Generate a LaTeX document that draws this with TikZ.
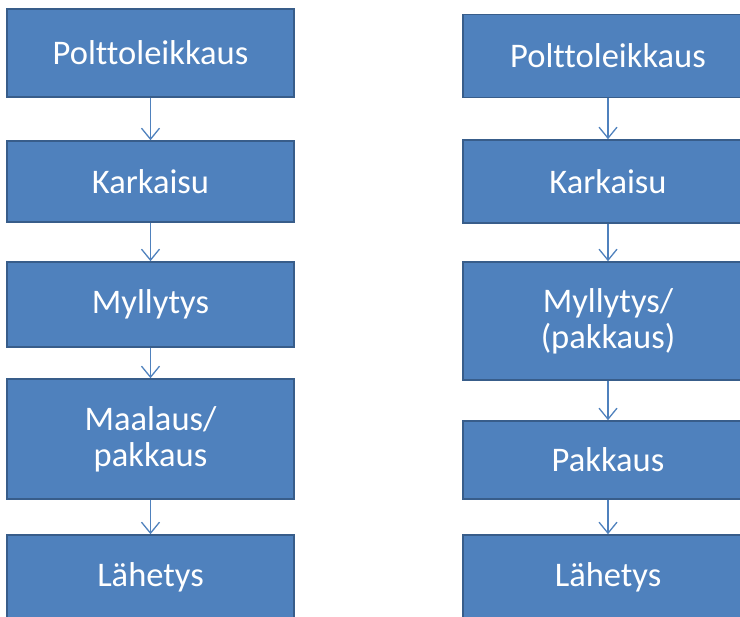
\documentclass[tikz,border=0pt]{standalone}
\usepackage{fontspec}
\setmainfont{Carlito}[Ligatures=NoCommon]
\usetikzlibrary{arrows.meta}
\definecolor{boxfill}{HTML}{4F81BD}
\definecolor{boxline}{HTML}{385D8A}
\begin{document}
\begin{tikzpicture}[x=1pt,y=-1pt,
  stepbox/.style={draw=boxline, line width=1.6pt, fill=boxfill, text=white,
    font=\fontsize{34.5}{36}\selectfont, align=center, inner sep=0pt, anchor=center},
  flow/.style={draw=boxfill, line width=1.3pt, -{Straight Barb[length=11pt,width=18pt,line width=1.3pt]}}]
\useasboundingbox (0,0) rectangle (740,617);
\clip (0,0) rectangle (740,617);
% left column
\node[stepbox, minimum width=287pt, minimum height=88pt] (l1) at (150.5,53) {Polttoleikkaus};
\node[stepbox, minimum width=287pt, minimum height=81pt] (l2) at (150.5,181.5) {Karkaisu};
\node[stepbox, minimum width=287pt, minimum height=85pt] (l3) at (150.5,304.5) {Myllytys};
\node[stepbox, minimum width=287pt, minimum height=120pt] (l4) at (150.5,439) {Maalaus/\\pakkaus};
\node[stepbox, minimum width=287pt, minimum height=84pt] (l5) at (150.5,577) {Lähetys};
% right column
\node[stepbox, minimum width=290pt, minimum height=83pt] (r1) at (608,56) {Polttoleikkaus};
\node[stepbox, minimum width=290pt, minimum height=83pt] (r2) at (608,181.5) {Karkaisu};
\node[stepbox, minimum width=290pt, minimum height=118pt] (r3) at (608,321) {Myllytys/\\(pakkaus)};
\node[stepbox, minimum width=290pt, minimum height=78pt] (r4) at (608,460) {Pakkaus};
\node[stepbox, minimum width=290pt, minimum height=84pt] (r5) at (608,577) {Lähetys};
% connectors
\draw[flow] (l1.south) -- (l2.north);
\draw[flow] (l2.south) -- (l3.north);
\draw[flow] (l3.south) -- (l4.north);
\draw[flow] (l4.south) -- (l5.north);
\draw[flow] (r1.south) -- (r2.north);
\draw[flow] (r2.south) -- (r3.north);
\draw[flow] (r3.south) -- (r4.north);
\draw[flow] (r4.south) -- (r5.north);
\end{tikzpicture}
\end{document}
